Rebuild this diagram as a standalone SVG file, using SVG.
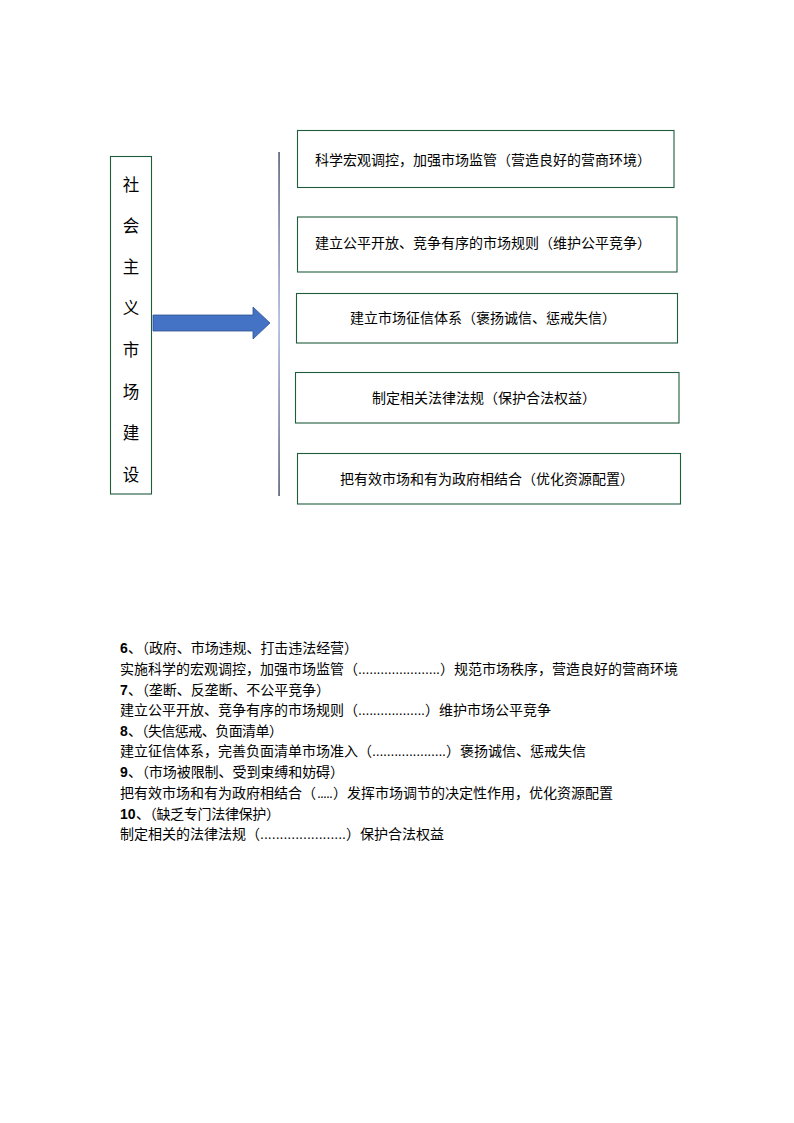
<svg xmlns="http://www.w3.org/2000/svg" width="794" height="1123" viewBox="0 0 794 1123">
  <style>
    text { font-family: "Liberation Sans", "Noto Sans CJK SC", sans-serif; fill: #000; }
    .box { fill: #fff; stroke: #1f5c3c; stroke-width: 1.1; }
    .bt { font-size: 14px; text-anchor: middle; }
    .vt { font-size: 16.5px; text-anchor: middle; }
    .nt { font-size: 14px; }
    .b { font-weight: bold; }
    .dots { font-family: "Liberation Sans", sans-serif; }
  </style>
  <defs>
    <linearGradient id="vline" gradientUnits="userSpaceOnUse" x1="0" y1="152" x2="0" y2="496">
      <stop offset="0" stop-color="#2b3858"/>
      <stop offset="0.5" stop-color="#93a6d0"/>
      <stop offset="1" stop-color="#2b3858"/>
    </linearGradient>
  </defs>
  <rect width="794" height="1123" fill="#fff"/>

  <g id="node-left">
    <rect class="box" x="110.5" y="156.5" width="41" height="337.5"/>
    <text class="vt" x="131" y="191">社</text>
    <text class="vt" x="131" y="232">会</text>
    <text class="vt" x="131" y="273">主</text>
    <text class="vt" x="131" y="314">义</text>
    <text class="vt" x="131" y="356">市</text>
    <text class="vt" x="131" y="398">场</text>
    <text class="vt" x="131" y="439">建</text>
    <text class="vt" x="131" y="481">设</text>
  </g>

  <g id="connectors">
    <polygon points="153,315 253,315 253,307 270,323 253,339 253,331 153,331" fill="#4472c4" stroke="#2f528f" stroke-width="0.8"/>
    <rect x="278.4" y="152" width="1.3" height="344" fill="url(#vline)"/>
  </g>

  <g id="node-1">
    <rect class="box" x="297.5" y="130.5" width="376.5" height="57"/>
    <text class="bt" x="483" y="165">科学宏观调控，加强市场监管（营造良好的营商环境）</text>
  </g>
  <g id="node-2">
    <rect class="box" x="297.5" y="217" width="379.5" height="55"/>
    <text class="bt" x="483" y="248">建立公平开放、竞争有序的市场规则（维护公平竞争）</text>
  </g>
  <g id="node-3">
    <rect class="box" x="296.5" y="293.5" width="381" height="49.5"/>
    <text class="bt" x="483" y="323">建立市场征信体系（褒扬诚信、惩戒失信）</text>
  </g>
  <g id="node-4">
    <rect class="box" x="295.5" y="372.5" width="383.5" height="50.5"/>
    <text class="bt" x="484" y="403">制定相关法律法规（保护合法权益）</text>
  </g>
  <g id="node-5">
    <rect class="box" x="297.5" y="453.5" width="383" height="50.5"/>
    <text class="bt" x="487" y="484">把有效市场和有为政府相结合（优化资源配置）</text>
  </g>

  <g id="notes">
    <text class="nt" y="653"><tspan class="b" x="120">6</tspan><tspan x="128" textLength="230" lengthAdjust="spacing">、（政府、市场违规、打击违法经营）</tspan></text>
    <text class="nt" y="674"><tspan x="120">实施科学的宏观调控，加强市场监管（</tspan><tspan class="dots" x="358" textLength="82" lengthAdjust="spacing">......................</tspan><tspan x="440">）规范市场秩序，营造良好的营商环境</tspan></text>
    <text class="nt" y="695"><tspan class="b" x="120">7</tspan><tspan x="128" textLength="202" lengthAdjust="spacing">、（垄断、反垄断、不公平竞争）</tspan></text>
    <text class="nt" y="715"><tspan x="120">建立公平开放、竞争有序的市场规则（</tspan><tspan class="dots" x="358" textLength="67" lengthAdjust="spacing">..................</tspan><tspan x="425">）维护市场公平竞争</tspan></text>
    <text class="nt" y="736"><tspan class="b" x="120">8</tspan><tspan x="128" textLength="155" lengthAdjust="spacing">、（失信惩戒、负面清单）</tspan></text>
    <text class="nt" y="756"><tspan x="120">建立征信体系，完善负面清单市场准入（</tspan><tspan class="dots" x="372" textLength="74" lengthAdjust="spacing">....................</tspan><tspan x="446">）褒扬诚信、惩戒失信</tspan></text>
    <text class="nt" y="777"><tspan class="b" x="120">9</tspan><tspan x="128" textLength="216" lengthAdjust="spacing">、（市场被限制、受到束缚和妨碍）</tspan></text>
    <text class="nt" y="798"><tspan x="120">把有效市场和有为政府相结合（</tspan><tspan class="dots" x="317" textLength="16" lengthAdjust="spacing">.....</tspan><tspan x="333">）发挥市场调节的决定性作用，优化资源配置</tspan></text>
    <text class="nt" y="819"><tspan class="b" x="120">10</tspan><tspan x="136" textLength="144" lengthAdjust="spacing">、（缺乏专门法律保护）</tspan></text>
    <text class="nt" y="839"><tspan x="120">制定相关的法律法规（</tspan><tspan class="dots" x="260" textLength="86" lengthAdjust="spacing">......................</tspan><tspan x="346">）保护合法权益</tspan></text>
  </g>
</svg>
